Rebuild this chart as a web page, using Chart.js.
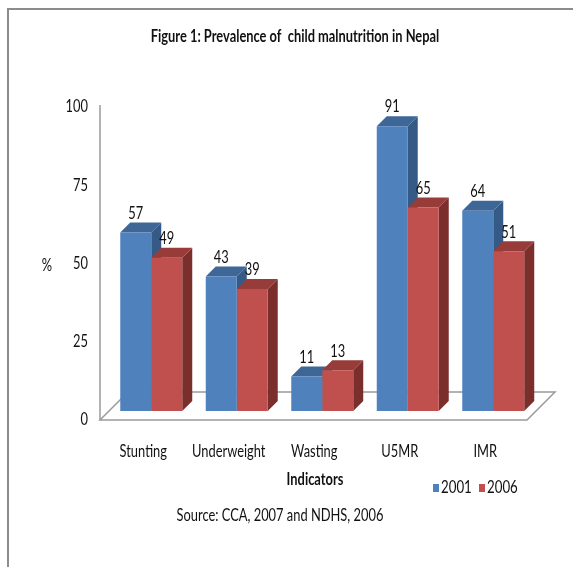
<!DOCTYPE html>
<html>
<head>
<meta charset="utf-8">
<script src="https://cdn.jsdelivr.net/npm/chart.js@4"></script>
<style>
  html, body { margin: 0; padding: 0; background: #fff; }
  canvas { display: block; }
</style>
</head>
<body>
<canvas id="chart" width="573" height="567"></canvas>
<script>
// Prevalence of child malnutrition in Nepal (%), 2001 vs 2006
const categories = ['Stunting', 'Underweight', 'Wasting', 'U5MR', 'IMR'];
const years = ['2001', '2006'];
const values2001 = [57, 43, 11, 91, 64];
const values2006 = [49, 39, 13, 65, 51];
const yTicks = [0, 25, 50, 75, 100];

const FAMILY = "Lato, 'Open Sans', sans-serif";
const SX = 0.78;           // narrow letterforms
const INK = '#111111';
const FRONT = ['#4F81BD', '#C0504D'];
const TOP = ['#3E6697', '#973C39'];
const SIDE = ['#365A86', '#7B2F2D'];
const DEPTH = 10;          // depth of each 3D bar
const FLOOR_FRONT = 9;     // floor front edge sits this far ahead of the bar faces
const FLOOR_BACK = 19;     // floor back edge sits this far behind the bar faces
const LINE = '#9a9a9a';

function poly(ctx, pts, fill) {
  ctx.beginPath();
  ctx.moveTo(pts[0][0], pts[0][1]);
  for (let i = 1; i < pts.length; i++) ctx.lineTo(pts[i][0], pts[i][1]);
  ctx.closePath();
  ctx.fillStyle = fill;
  ctx.fill();
}

function txt(ctx, s, x, y, font, align) {
  ctx.save();
  ctx.font = font;
  ctx.fillStyle = INK;
  ctx.textAlign = align || 'center';
  ctx.textBaseline = 'middle';
  ctx.translate(x, y);
  ctx.scale(SX, 1);
  ctx.fillText(s, 0, 0);
  ctx.restore();
}

const bar3d = {
  id: 'bar3d',
  beforeDraw(chart) {
    const ctx = chart.ctx;
    ctx.save();
    ctx.strokeStyle = '#8c8c8c';
    ctx.lineWidth = 2;
    ctx.beginPath();
    ctx.moveTo(8, 567);
    ctx.lineTo(8, 9);
    ctx.lineTo(573, 9);
    ctx.stroke();
    ctx.restore();
  },
  beforeDatasetsDraw(chart) {
    const ctx = chart.ctx;
    const area = chart.chartArea;
    const y = chart.scales.y;
    const y0 = y.getPixelForValue(0);
    const yTop = y.getPixelForValue(100);
    ctx.save();
    // floor
    ctx.strokeStyle = LINE;
    ctx.lineWidth = 1.5;
    const fl = area.left - FLOOR_FRONT + 0.5, fr = area.right - FLOOR_FRONT;
    const fy = y0 + FLOOR_FRONT;
    const d = FLOOR_FRONT + FLOOR_BACK;
    ctx.beginPath();
    ctx.moveTo(fl, fy);
    ctx.lineTo(fr, fy);
    ctx.lineTo(fr + d, fy - d);
    ctx.lineTo(fl + d, fy - d);
    ctx.closePath();
    ctx.stroke();
    // value axis edge
    ctx.beginPath();
    ctx.moveTo(fl, fy);
    ctx.lineTo(fl, yTop + FLOOR_FRONT - 2);
    ctx.stroke();
    // top and side faces of the bars
    for (let i = 0; i < categories.length; i++) {
      for (let s = 0; s < chart.data.datasets.length; s++) {
        const el = chart.getDatasetMeta(s).data[i];
        const p = el.getProps(['x', 'y', 'base', 'width'], true);
        const l = p.x - p.width / 2, r = p.x + p.width / 2;
        poly(ctx, [[r, p.y], [r + DEPTH, p.y - DEPTH], [r + DEPTH, p.base - DEPTH], [r, p.base]], SIDE[s]);
        poly(ctx, [[l, p.y], [l + DEPTH, p.y - DEPTH], [r + DEPTH, p.y - DEPTH], [r, p.y]], TOP[s]);
      }
    }
    ctx.restore();
  },
  afterDatasetsDraw(chart) {
    const ctx = chart.ctx;
    // value labels above the bars
    chart.data.datasets.forEach((ds, s) => {
      chart.getDatasetMeta(s).data.forEach((el, i) => {
        const p = el.getProps(['x', 'y'], true);
        txt(ctx, String(ds.data[i]), p.x, p.y - 19, '16.5px ' + FAMILY);
      });
    });
  },
  afterDraw(chart) {
    const ctx = chart.ctx;
    const xs = chart.scales.x, ys = chart.scales.y;
    // axis tick labels, placed on the front edge of the floor / wall
    xs.ticks.forEach((t, i) => {
      txt(ctx, chart.data.labels[i], xs.getPixelForTick(i) - 8, 452, '16.5px ' + FAMILY);
    });
    ys.ticks.forEach(t => {
      txt(ctx, String(t.value), 88, ys.getPixelForValue(t.value) + FLOOR_FRONT, '16.5px ' + FAMILY, 'right');
    });
    txt(ctx, 'Figure 1: Prevalence of  child malnutrition in Nepal', 295, 37, 'bold 16.5px ' + FAMILY);
    txt(ctx, '%', 47, 266, '16.5px ' + FAMILY);
    txt(ctx, 'Indicators', 315, 480, 'bold 16.5px ' + FAMILY);
    txt(ctx, 'Source: CCA, 2007 and NDHS, 2006', 280, 516, '16.5px ' + FAMILY);
    // legend
    const lx = [433, 479];
    chart.data.datasets.forEach((ds, s) => {
      ctx.fillStyle = ds.backgroundColor;
      ctx.fillRect(lx[s], 484, 6, 8);
      txt(ctx, ds.label, lx[s] + 8, 488, '17px ' + FAMILY, 'left');
    });
  }
};

new Chart(document.getElementById('chart'), {
  type: 'bar',
  data: {
    labels: categories,
    datasets: [
      { label: years[0], data: values2001, backgroundColor: FRONT[0] },
      { label: years[1], data: values2006, backgroundColor: FRONT[1] }
    ]
  },
  options: {
    responsive: false,
    animation: false,
    events: [],
    datasets: { bar: { categoryPercentage: 0.725, barPercentage: 1 } },
    layout: { padding: { left: 0, right: 37, top: 98, bottom: 0 } },
    scales: {
      x: {
        grid: { display: false, drawTicks: false },
        border: { display: false },
        ticks: { display: false, autoSkip: false },
        afterFit(s) { s.height = 567 - 411; }
      },
      y: {
        min: 0, max: 100,
        grid: { display: false, drawTicks: false },
        border: { display: false },
        ticks: { display: false },
        afterBuildTicks(s) { s.ticks = yTicks.map(v => ({ value: v })); },
        afterFit(s) { s.width = 108.5; }
      }
    },
    plugins: { legend: { display: false }, title: { display: false }, tooltip: { enabled: false } }
  },
  plugins: [bar3d]
});
</script>
</body>
</html>
